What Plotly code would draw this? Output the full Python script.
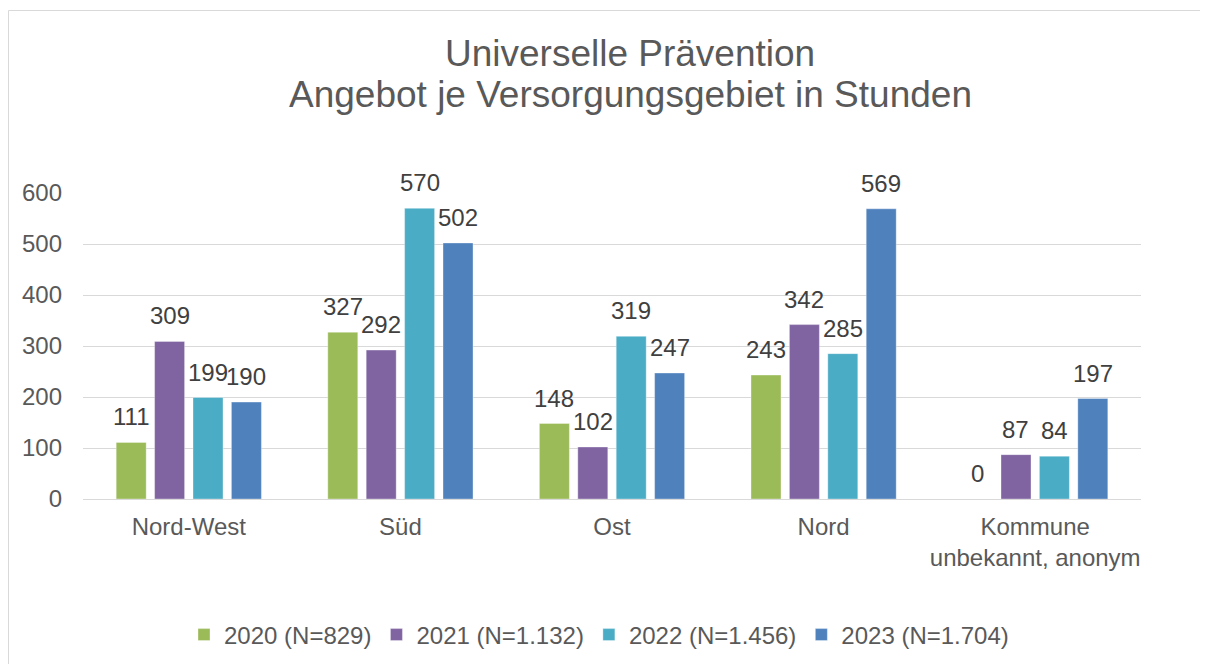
import plotly.graph_objects as go

categories = ["Nord-West", "Süd", "Ost", "Nord", "Kommune<br>unbekannt, anonym"]
series_names = ["2020 (N=829)", "2021 (N=1.132)", "2022 (N=1.456)", "2023 (N=1.704)"]
values_2020 = [111, 327, 148, 243, 0]
values_2021 = [309, 292, 102, 342, 87]
values_2022 = [199, 570, 319, 285, 84]
values_2023 = [190, 502, 247, 569, 197]
colors = ["#9BBB59", "#8064A2", "#4BACC6", "#4F81BD"]
y_ticks = [0, 100, 200, 300, 400, 500, 600]
title_lines = ["Universelle Prävention", "Angebot je Versorgungsgebiet in Stunden"]

FONT = "Liberation Sans, Arial, sans-serif"
W, H = 1200, 656          # page body has an 8px margin
L, R, T, B = 75, 67, 185, 165
pw, ph = W - L - R, H - T - B
BARGAP, GROUPGAP = 0.274, 0.219
series = [values_2020, values_2021, values_2022, values_2023]

fig = go.Figure()
for name, vals, col in zip(series_names, series, colors):
    fig.add_trace(go.Bar(
        x=categories, y=vals, name=name,
        marker=dict(color=col, line=dict(color="rgba(255,255,255,0.35)", width=1)),
        hoverinfo="x+y+name",
    ))

# data labels above bars, anchored to the data coordinates
slot = pw / len(categories) * (1 - BARGAP) / len(series)
annotations = []
for i, vals in enumerate(series):
    shift = (i - (len(series) - 1) / 2) * slot
    for c, v in zip(categories, vals):
        annotations.append(dict(
            x=c, y=v, xref="x", yref="y", text=str(v), showarrow=False,
            xanchor="center", yanchor="bottom", xshift=shift, yshift=10,
            font=dict(family=FONT, size=24, color="#404040"),
        ))

# two-line title
for txt, ypx in zip(title_lines, [45, 86]):
    annotations.append(dict(
        text=txt, showarrow=False, xref="paper", yref="paper",
        x=(622 - L) / pw, y=(T + ph - ypx) / ph, xanchor="center", yanchor="middle",
        font=dict(family=FONT, size=37, color="#595959"),
    ))

fig.update_layout(
    width=W, height=H,
    margin=dict(l=L, r=R, t=T, b=B, autoexpand=False),
    paper_bgcolor="white", plot_bgcolor="white",
    barmode="group", bargap=BARGAP, bargroupgap=GROUPGAP,
    font=dict(family=FONT, size=24, color="#595959"),
    xaxis=dict(showgrid=False, showline=True, linecolor="#d9d9d9", linewidth=1,
               ticks="", ticklabelstandoff=6, tickfont=dict(size=24, color="#595959")),
    yaxis=dict(range=[0, 600], tickvals=y_ticks, showgrid=True, gridcolor="#d9d9d9",
               gridwidth=1, zeroline=False, showline=False, ticks="",
               ticklabelstandoff=20, tickfont=dict(size=24, color="#595959")),
    legend=dict(orientation="h", x=(591 - L) / pw, xanchor="center",
                y=(T + ph - 627) / ph, yanchor="middle",
                font=dict(size=24, color="#595959"), itemwidth=30),
    annotations=annotations,
    shapes=[dict(type="rect", xref="paper", yref="paper",
                 x0=(0.5 - L) / pw, x1=(W + 20 - L) / pw,
                 y0=(T + ph - (H + 20)) / ph, y1=(T + ph - 2.5) / ph,
                 line=dict(color="#d9d9d9", width=1), fillcolor="rgba(0,0,0,0)", layer="below")],
)

fig.write_html("out.html")
